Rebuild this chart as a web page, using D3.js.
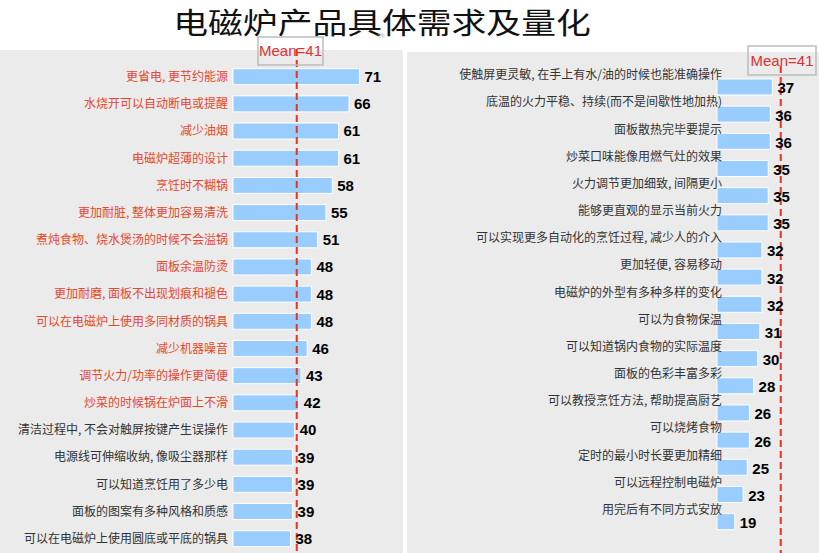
<!DOCTYPE html>
<html>
<head>
<meta charset="utf-8">
<script src="https://cdn.jsdelivr.net/npm/d3@7"></script>
<style>
  html, body { margin: 0; padding: 0; background: #fff; }
  svg { display: block; }
</style>
</head>
<body>
<div id="chart"></div>
<script>
// left panel: top 18 needs (first 13 highlighted in red)
const leftLabels = [
  "更省电, 更节约能源", "水烧开可以自动断电或提醒", "减少油烟", "电磁炉超薄的设计",
  "烹饪时不糊锅", "更加耐脏, 整体更加容易清洗", "煮炖食物、烧水煲汤的时候不会溢锅",
  "面板余温防烫", "更加耐磨, 面板不出现划痕和褪色", "可以在电磁炉上使用多同材质的锅具",
  "减少机器噪音", "调节火力/功率的操作更简便", "炒菜的时候锅在炉面上不滑",
  "清洁过程中, 不会对触屏按键产生误操作", "电源线可伸缩收纳, 像吸尘器那样",
  "可以知道烹饪用了多少电", "面板的图案有多种风格和质感", "可以在电磁炉上使用圆底或平底的锅具"
];
const leftValues = [71, 66, 61, 61, 58, 55, 51, 48, 48, 48, 46, 43, 42, 40, 39, 39, 39, 38];
const highlightCount = 13;

// right panel: remaining needs
const rightLabels = [
  "使触屏更灵敏, 在手上有水/油的时候也能准确操作", "底温的火力平稳、持续(而不是间歇性地加热)",
  "面板散热完毕要提示", "炒菜口味能像用燃气灶的效果", "火力调节更加细致, 间隔更小",
  "能够更直观的显示当前火力", "可以实现更多自动化的烹饪过程, 减少人的介入", "更加轻便, 容易移动",
  "电磁炉的外型有多种多样的变化", "可以为食物保温", "可以知道锅内食物的实际温度",
  "面板的色彩丰富多彩", "可以教授烹饪方法, 帮助提高厨艺", "可以烧烤食物",
  "定时的最小时长要更加精细", "可以远程控制电磁炉", "用完后有不同方式安放"
];
const rightValues = [37, 36, 36, 35, 35, 35, 32, 32, 32, 31, 30, 28, 26, 26, 25, 23, 19];

const meanValue = 41;
const title = "电磁炉产品具体需求及量化";

const W = 819, H = 553;
const cjk = "'Noto Sans CJK SC', 'Noto Sans', sans-serif";
const latin = "'Liberation Sans', Arial, sans-serif";
const barColor = "#99ccff";
const redText = "#e4472b";
const meanColor = "#e8331e";

const svg = d3.select("#chart").append("svg")
  .attr("width", W).attr("height", H);

// title is wider than tall in the original, so stretch it a little
svg.append("text")
  .attr("transform", "translate(382, 34) scale(1.2, 1)")
  .attr("text-anchor", "middle")
  .style("font-family", cjk)
  .style("font-size", "29px")
  .style("fill", "#111")
  .text(title);

svg.append("text")
  .attr("x", 381).attr("y", 38)
  .attr("text-anchor", "middle")
  .style("font-family", latin)
  .style("font-size", "8px")
  .style("fill", "#bbb")
  .text("%");

// shared length scale (axis does not start at zero)
const len = d3.scaleLinear().domain([10.5, 80]).range([0, 69.5 * 2.09]);

function drawPanel(opts) {
  const { labels, values, x0, y0, y1, px0, px1, py0, labelAbove, boxX, boxY, boxW, boxH, lineTop, red } = opts;
  const g = svg.append("g");

  g.append("rect")
    .attr("x", px0).attr("y", py0)
    .attr("width", px1 - px0).attr("height", H - py0)
    .attr("fill", "#ebebeb");

  const y = d3.scalePoint().domain(labels).range([y0, y1]).padding(0.5);
  const bh = 16;

  g.selectAll(".bar")
    .data(labels)
    .enter().append("rect")
    .attr("class", "bar")
    .attr("x", x0)
    .attr("y", d => y(d) - bh / 2)
    .attr("width", (d, i) => len(values[i]))
    .attr("height", bh)
    .attr("fill", barColor)
    .attr("stroke", "#fff")
    .attr("stroke-width", 1);

  g.selectAll(".lab")
    .data(labels)
    .enter().append("text")
    .attr("class", "lab")
    .attr("x", labelAbove ? x0 + 5 : x0 - 5)
    .attr("y", d => labelAbove ? y(d) - 12 : y(d))
    .attr("dy", "0.36em")
    .attr("text-anchor", "end")
    .style("font-family", cjk)
    .style("font-size", "12px")
    .style("fill", (d, i) => i < red ? redText : "#333")
    .text(d => d);

  // mean line
  const mx = x0 + len(meanValue);
  g.append("line")
    .attr("x1", mx).attr("x2", mx)
    .attr("y1", lineTop).attr("y2", H)
    .attr("stroke", meanColor)
    .attr("stroke-width", 2)
    .attr("stroke-dasharray", "7,4");

  g.selectAll(".val")
    .data(labels)
    .enter().append("text")
    .attr("class", "val")
    .attr("x", (d, i) => x0 + len(values[i]) + 5)
    .attr("y", d => y(d) + (labelAbove ? 1 : 0))
    .attr("dy", "0.36em")
    .style("font-family", latin)
    .style("font-size", "15px")
    .style("font-weight", "bold")
    .style("fill", "#000")
    .text((d, i) => values[i]);

  g.append("rect")
    .attr("x", boxX).attr("y", boxY)
    .attr("width", boxW).attr("height", boxH)
    .attr("fill", "none")
    .attr("stroke", "#bdbdbd")
    .attr("stroke-width", 1.5);

  g.append("text")
    .attr("x", boxX + boxW / 2).attr("y", boxY + boxH / 2)
    .attr("dy", "0.36em")
    .attr("text-anchor", "middle")
    .style("font-family", latin)
    .style("font-size", "15px")
    .style("fill", "#e03030")
    .text("Mean=" + meanValue);
}

drawPanel({
  labels: leftLabels, values: leftValues,
  x0: 233, y0: 63.1, y1: 552.3,
  px0: 0, px1: 403, py0: 50,
  labelAbove: false, red: highlightCount,
  boxX: 258, boxY: 37, boxW: 65, boxH: 28, lineTop: 49
});

drawPanel({
  labels: rightLabels, values: rightValues,
  x0: 717, y0: 73.4, y1: 535.2,
  px0: 407, px1: 819, py0: 52,
  labelAbove: true, red: 0,
  boxX: 748, boxY: 46, boxW: 68, boxH: 29, lineTop: 66
});
</script>
</body>
</html>
